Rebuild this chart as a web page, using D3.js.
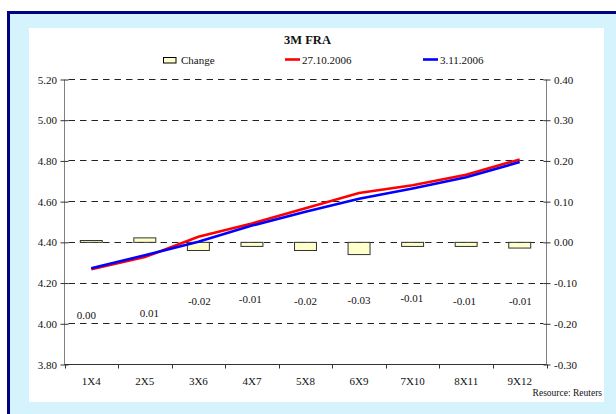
<!DOCTYPE html>
<html>
<head>
<meta charset="utf-8">
<script src="https://cdn.jsdelivr.net/npm/d3@7"></script>
<style>
  html, body { margin: 0; padding: 0; background: #fff; }
  svg { display: block; }
  text { font-family: "Liberation Serif", "Times New Roman", serif; fill: #111; }
</style>
</head>
<body>
<svg id="chart" width="616" height="414"></svg>
<script>
// ---- data ----
const categories = ["1X4", "2X5", "3X6", "4X7", "5X8", "6X9", "7X10", "8X11", "9X12"];
const rates27Oct = [4.265, 4.325, 4.425, 4.490, 4.565, 4.640, 4.678, 4.730, 4.805];
const rates3Nov  = [4.270, 4.334, 4.400, 4.480, 4.548, 4.612, 4.662, 4.717, 4.792];
const change     = [0.0045, 0.011, -0.020, -0.010, -0.020, -0.030, -0.010, -0.010, -0.014];
const leftTicks  = [3.80, 4.00, 4.20, 4.40, 4.60, 4.80, 5.00, 5.20];
const rightTicks = [-0.30, -0.20, -0.10, 0.00, 0.10, 0.20, 0.30, 0.40];
const seriesNames = ["Change", "27.10.2006", "3.11.2006"];
const title = "3M FRA";
const source = "Resource: Reuters";

// ---- layout (not data) ----
const labelDx = [-5, 4.5, 1, -1.7, 0, 0, -0.7, -1.6, 0.7];
const labelDy = [16, 14, 1.7, 0, 1.7, 1, -0.7, 2, 2];

const fmt = d3.formatLocale({decimal: ".", thousands: ",", grouping: [3], currency: ["", ""], minus: "-"}).format(".2f");

const svg = d3.select("#chart");

// outer frame
svg.append("rect").attr("x", 0).attr("y", 0).attr("width", 616).attr("height", 414).attr("fill", "#fff");
svg.append("rect").attr("x", 8.5).attr("y", 12.5).attr("width", 620).attr("height", 420)
  .attr("fill", "#d5f3fc").attr("stroke", "#000080").attr("stroke-width", 3);
svg.append("rect").attr("x", 29).attr("y", 28).attr("width", 575).attr("height", 374).attr("fill", "#fff");

const L = 64.5, R = 546.5, T = 79, B = 364;

const x = d3.scaleBand().domain(categories).range([L, R]).padding(0);
const yL = d3.scaleLinear().domain([3.80, 5.20]).range([B, T]);
const yR = d3.scaleLinear().domain([-0.30, 0.40]).range([B, T]);

// gridlines (dashed)
svg.append("g").selectAll("line").data(leftTicks.slice(1)).join("line")
  .attr("x1", L + 4).attr("x2", R - 3)
  .attr("y1", d => Math.round(yL(d)) + 0.5).attr("y2", d => Math.round(yL(d)) + 0.5)
  .attr("stroke", "#222").attr("stroke-width", 1).attr("stroke-dasharray", "6.5,5");

// left axis
const axL = d3.axisLeft(yL).tickValues(leftTicks).tickFormat(fmt).tickSize(4).tickPadding(4);
const gL = svg.append("g").attr("transform", `translate(${L},0.5)`).call(axL);
gL.select(".domain").attr("stroke", "#808080").attr("d", `M0,${T}V${B}`);
gL.selectAll(".tick line").attr("x1", 4).attr("x2", -4).attr("stroke", "#333");
gL.selectAll("text").attr("font-size", 11).attr("font-family", "Liberation Serif").attr("fill", "#222").attr("x", -7.5);

// right axis
const axR = d3.axisRight(yR).tickValues(rightTicks).tickFormat(fmt).tickSize(4).tickPadding(4);
const gR = svg.append("g").attr("transform", `translate(${R},0.5)`).call(axR);
gR.select(".domain").attr("stroke", "#808080").attr("d", `M0,${T}V${B}`);
gR.selectAll(".tick line").attr("x1", -3).attr("x2", 4).attr("stroke", "#333");
gR.selectAll("text").attr("font-size", 11).attr("font-family", "Liberation Serif").attr("fill", "#222").attr("x", 7.5);

// bottom axis
const axB = d3.axisBottom(x).tickSize(0).tickPadding(13);
const gB = svg.append("g").attr("transform", `translate(0,${B + 0.5})`).call(axB);
gB.select(".domain").attr("stroke", "#333").attr("d", `M${L},0H${R}`);
gB.selectAll("text").attr("font-size", 11).attr("font-family", "Liberation Serif").attr("fill", "#222");
gB.append("g").selectAll("line").data(categories.concat(["end"])).join("line")
  .attr("x1", (d, i) => Math.round(L + i * x.bandwidth()) + 0.5)
  .attr("x2", (d, i) => Math.round(L + i * x.bandwidth()) + 0.5)
  .attr("y1", 0).attr("y2", 4).attr("stroke", "#333");

// bars
const bw = x.bandwidth() * 0.41;
svg.append("g").selectAll("rect").data(change).join("rect")
  .attr("x", (d, i) => x(categories[i]) + x.bandwidth() / 2 - bw / 2)
  .attr("y", d => Math.min(yR(d), yR(0)) + 0.5)
  .attr("width", bw)
  .attr("height", d => Math.abs(yR(d) - yR(0)))
  .attr("fill", "#ffffcc").attr("stroke", "#333").attr("stroke-width", 1);

// bar labels
svg.append("g").selectAll("text").data(change).join("text")
  .attr("x", (d, i) => x(categories[i]) + x.bandwidth() / 2 + labelDx[i])
  .attr("y", (d, i) => yR(-0.14) + labelDy[i] + 4)
  .attr("text-anchor", "middle").attr("font-size", 11).attr("fill", "#222")
  .text(d => fmt(d));

// lines
const line = d3.line().x((d, i) => x(categories[i]) + x.bandwidth() / 2).y(d => yL(d));
svg.append("path").datum(rates27Oct).attr("d", line).attr("fill", "none")
  .attr("stroke", "#ff0000").attr("stroke-width", 2.6);
svg.append("path").datum(rates3Nov).attr("d", line).attr("fill", "none")
  .attr("stroke", "#0000ff").attr("stroke-width", 2.6);

// title
svg.append("text").attr("x", 307.5).attr("y", 44).attr("text-anchor", "middle")
  .attr("font-size", 12.5).attr("font-weight", "bold").attr("fill", "#000").text(title);

// legend
const lg = svg.append("g");
lg.append("rect").attr("x", 163.5).attr("y", 57.5).attr("width", 12.5).attr("height", 5.5)
  .attr("fill", "#ffffcc").attr("stroke", "#000");
lg.append("text").attr("x", 181).attr("y", 64).attr("font-size", 11).attr("fill", "#222").text(seriesNames[0]);
lg.append("line").attr("x1", 285).attr("x2", 300).attr("y1", 59.5).attr("y2", 59.5)
  .attr("stroke", "#ff0000").attr("stroke-width", 2.6);
lg.append("text").attr("x", 302).attr("y", 64).attr("font-size", 11).attr("fill", "#222").text(seriesNames[1]);
lg.append("line").attr("x1", 423).attr("x2", 438).attr("y1", 59.5).attr("y2", 59.5)
  .attr("stroke", "#0000ff").attr("stroke-width", 2.6);
lg.append("text").attr("x", 440).attr("y", 64).attr("font-size", 11).attr("fill", "#222").text(seriesNames[2]);

// source
svg.append("text").attr("x", 602).attr("y", 396).attr("text-anchor", "end")
  .attr("font-size", 9.5).attr("fill", "#222").text(source);
</script>
</body>
</html>
